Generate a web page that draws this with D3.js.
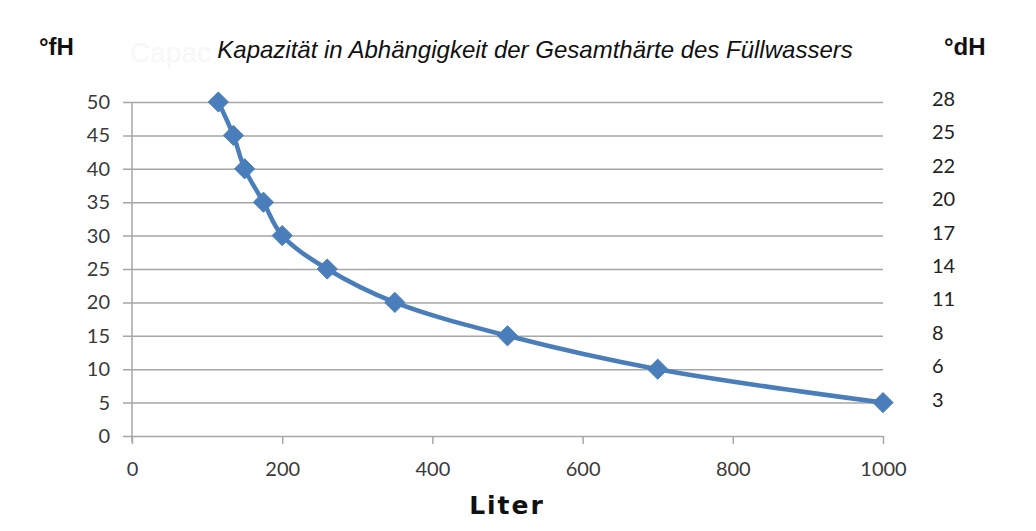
<!DOCTYPE html>
<html>
<head>
<meta charset="utf-8">
<script src="https://cdnjs.cloudflare.com/ajax/libs/d3/7.8.5/d3.min.js"></script>
<style>
  body { margin: 0; background: #fff; }
  svg { display: block; }
</style>
</head>
<body>
<div id="chart"></div>
<script>
// values
const liters = [115, 135, 150, 175, 200, 260, 350, 500, 700, 1000];
const hardnessFH = [50, 45, 40, 35, 30, 25, 20, 15, 10, 5];
const hardnessDH = [28, 25, 22, 20, 17, 14, 11, 8, 6, 3];
const xTicks = [0, 200, 400, 600, 800, 1000];
const yTicks = [0, 5, 10, 15, 20, 25, 30, 35, 40, 45, 50];

let width = 1036,
    height = 531,
    margin = {top: 102, right: 153, bottom: 95, left: 132},
    blue = "#4a7ebb",
    grid = "#a6a6a6",
    tickFont = "Lato, 'Open Sans', sans-serif";

let x = d3.scaleLinear().domain([0, 1000]).range([margin.left, width - margin.right]);
let y = d3.scaleLinear().domain([0, 50]).range([height - margin.bottom, margin.top]);

let svg = d3.select("#chart")
    .append("svg")
    .attr("width", width)
    .attr("height", height);

// faint leftover text behind the title
svg.append("text")
    .attr("x", 130).attr("y", 62)
    .attr("font-family", "'Liberation Sans', Arial, sans-serif")
    .attr("font-size", 28)
    .attr("fill", "#f7f7f7")
    .text("Capac");

// horizontal gridlines (left axis)
let yAxis = d3.axisLeft(y)
    .tickValues(yTicks)
    .tickSize(-(x.range()[1] - x.range()[0]))
    .tickPadding(22)
    .tickFormat(d3.format("d"));

let gy = svg.append("g")
    .attr("transform", "translate(" + x.range()[0] + ",0)")
    .call(yAxis);
gy.select(".domain").remove();
gy.selectAll(".tick line")
    .attr("x1", -9)
    .attr("stroke", grid)
    .attr("stroke-width", 1.5);
gy.selectAll(".tick text")
    .attr("font-family", tickFont)
    .attr("font-size", 20)
    .attr("fill", "#3a3a3a");

// vertical axis line
svg.append("line")
    .attr("x1", x(0)).attr("x2", x(0))
    .attr("y1", y(50)).attr("y2", y(0) + 6)
    .attr("stroke", grid)
    .attr("stroke-width", 1.5);

// bottom axis
let xAxis = d3.axisBottom(x)
    .tickValues(xTicks)
    .tickSize(8)
    .tickPadding(18)
    .tickSizeOuter(0)
    .tickFormat(d3.format("d"));

let gx = svg.append("g")
    .attr("transform", "translate(0," + y(0) + ")")
    .call(xAxis);
gx.select(".domain").remove();
gx.selectAll(".tick line")
    .attr("stroke", grid)
    .attr("stroke-width", 1.5);
gx.selectAll(".tick text")
    .attr("font-family", tickFont)
    .attr("font-size", 20)
    .attr("fill", "#3a3a3a");

// right-hand °dH labels
svg.append("g")
    .selectAll("text")
    .data(hardnessDH)
    .enter()
    .append("text")
    .attr("x", 932)
    .attr("y", (d, i) => y(hardnessFH[i]) - 3)
    .attr("dy", "0.35em")
    .attr("font-family", tickFont)
    .attr("font-size", 20)
    .attr("fill", "#222")
    .text(d => d);

// the curve
let data = liters.map((l, i) => ({liter: l, fh: hardnessFH[i]}));

let line = d3.line()
    .x(d => x(d.liter))
    .y(d => y(d.fh))
    .curve(d3.curveCatmullRom.alpha(0.5));

svg.append("path")
    .datum(data)
    .attr("d", line)
    .attr("fill", "none")
    .attr("stroke", blue)
    .attr("stroke-width", 4.5)
    .attr("stroke-linejoin", "round");

let diamond = d3.symbol().type(d3.symbolDiamond2).size(260);

svg.append("g")
    .selectAll("path")
    .data(data)
    .enter()
    .append("path")
    .attr("d", diamond)
    .attr("transform", d => "translate(" + x(d.liter) + "," + y(d.fh) + ")")
    .attr("fill", blue)
    .attr("stroke", blue)
    .attr("stroke-width", 1);

// titles
svg.append("text")
    .attr("x", 535).attr("y", 58)
    .attr("text-anchor", "middle")
    .attr("font-family", "'Liberation Sans', Arial, sans-serif")
    .attr("font-style", "italic")
    .attr("font-size", 24)
    .attr("fill", "#111")
    .text("Kapazität in Abhängigkeit der Gesamthärte des Füllwassers");

svg.append("text")
    .attr("x", 39).attr("y", 55)
    .attr("font-family", "'Liberation Sans', Arial, sans-serif")
    .attr("font-weight", "bold")
    .attr("font-size", 24)
    .attr("fill", "#111")
    .text("°fH");

svg.append("text")
    .attr("x", 944).attr("y", 55)
    .attr("font-family", "'Liberation Sans', Arial, sans-serif")
    .attr("font-weight", "bold")
    .attr("font-size", 24)
    .attr("fill", "#111")
    .text("°dH");

svg.append("text")
    .attr("x", 507).attr("y", 514)
    .attr("text-anchor", "middle")
    .attr("font-family", "'DejaVu Sans', Verdana, sans-serif")
    .attr("font-weight", "bold")
    .attr("font-size", 25)
    .attr("letter-spacing", 2)
    .attr("fill", "#111")
    .text("Liter");
</script>
</body>
</html>
